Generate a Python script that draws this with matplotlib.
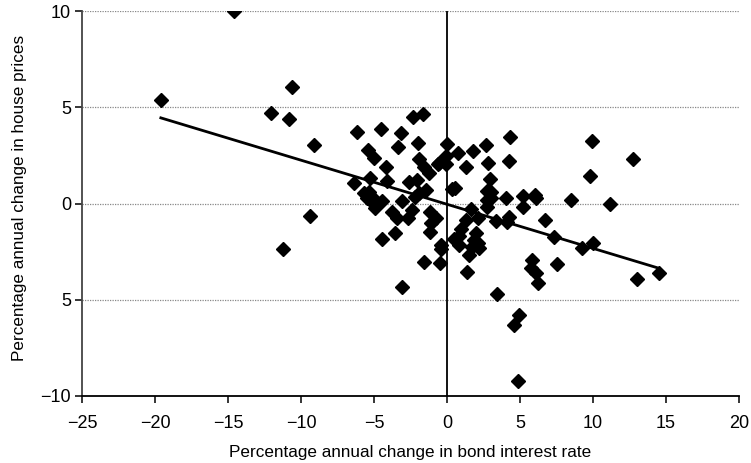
import matplotlib
matplotlib.use("Agg")
import matplotlib.pyplot as plt
import numpy as np

plt.rcParams['font.family'] = ['Liberation Sans', 'DejaVu Sans']

# Percentage annual change in bond interest rate (x) and house prices (y)
bond_change = [
    -19.6, -14.6, -12.06, -10.82, -10.6, -9.09, -9.36, -11.21,
    -6.16, -4.49, -3.14, -3.35, -5.43, -5.02, -4.15, -6.34, -5.25, -4.10,
    -5.71, -5.36, -5.13, -5.47, -5.02, -5.25, -4.90, -4.44, -3.07, -3.76,
    -3.42, -3.53, -4.44, -3.07,
    -2.32, -1.63, -2.0, -1.93, -1.59, -1.25, -0.56, -0.1, -0.1, -2.62,
    -2.04, -1.93, -1.47, -2.16, -2.39, -2.69, -1.18, -0.72, -1.13, -1.18,
    -0.38, -0.42, -1.59, -0.49, -0.03, -0.63,
    0.74, 1.77, 2.69, 1.32, 2.83, 2.94, 0.36, 0.58, 2.71, 2.98, 2.76, 2.98,
    2.71, 1.66, 2.11, 1.27, 0.93, 0.81, 0.51, 0.81, 2.02, 1.84, 2.11, 1.73,
    2.18, 1.50, 1.34,
    4.31, 4.27, 4.01, 5.22, 6.0, 6.07, 5.22, 3.39, 4.24, 4.13, 6.69, 7.33,
    5.84, 5.73, 6.07, 6.23, 7.56, 3.41, 4.93, 4.58, 4.83,
    8.52, 11.15, 9.91, 9.80, 12.77, 9.22, 10.0, 14.53, 13.0,
]
house_change = [
    5.4, 10.0, 4.71, 4.40, 6.03, 3.04, -0.63, -2.38,
    3.71, 3.87, 3.67, 2.93, 2.76, 2.34, 1.88, 1.05, 1.31, 1.18,
    0.53, 0.61, 0.35, 0.27, 0.01, 0.18, -0.25, 0.15, 0.15, -0.43,
    -0.77, -1.51, -1.86, -4.35,
    4.51, 4.64, 3.16, 2.29, 1.91, 1.57, 2.09, 2.48, 2.05, 1.13,
    1.22, 0.53, 0.70, 0.35, -0.34, -0.77, -0.43, -0.77, -1.03, -1.46,
    -2.15, -2.38, -3.02, -3.10, 3.09, 2.05,
    2.64, 2.74, 3.04, 1.91, 2.12, 1.27, 0.74, 0.82, 0.67, 0.61, 0.18, 0.27,
    -0.17, -0.30, -0.77, -0.86, -1.34, -1.69, -1.86, -2.15, -1.55, -1.89, -2.07, -2.24,
    -2.33, -2.67, -3.54,
    3.47, 2.21, 0.27, 0.39, 0.44, 0.27, -0.17, -0.89, -0.72, -0.94, -0.86, -1.76,
    -2.93, -3.36, -3.62, -4.14, -3.12, -4.70, -5.79, -6.31, -9.23,
    0.18, -0.03, 3.26, 1.43, 2.31, -2.29, -2.03, -3.59, -3.92,
]

# Fitted regression line (slope, intercept)
fit_slope = -0.229
fit_intercept = -0.04

x_ticks = [-25, -20, -15, -10, -5, 0, 5, 10, 15, 20]
x_ticklabels = ['\u221225', '\u221220', '\u221215', '\u221210', '\u22125', '0', '5', '10', '15', '20']
y_ticks = [-10, -5, 0, 5, 10]
y_ticklabels = ['\u221210', '5', '0', '5', '10']

fig = plt.figure(figsize=(7.51, 4.63), dpi=100)
ax = fig.add_axes([82/751, 1 - 396/463, (739 - 82)/751, (396 - 11)/463])

ax.set_xlim(-25, 20)
ax.set_ylim(-10, 10)

for yv in [10, 5, 0, -5]:
    ax.axhline(yv, color='#888888', linestyle=(0, (1, 1)), linewidth=0.9, zorder=1)
ax.axvline(0, color='black', linewidth=1.3, zorder=2)

xs = np.array(bond_change)
xl = np.array([xs.min(), xs.max()])
ax.plot(xl, fit_slope * xl + fit_intercept, color='black', linewidth=2.0, zorder=3)

ax.plot(bond_change, house_change, linestyle='none', marker='D', markersize=7.5,
        color='black', zorder=4)

for s in ['top', 'right']:
    ax.spines[s].set_visible(False)
ax.spines['left'].set_color('#444444')
ax.spines['left'].set_linewidth(1.3)
ax.spines['bottom'].set_linewidth(1.3)

ax.set_xticks(x_ticks)
ax.set_xticklabels(x_ticklabels)
ax.set_yticks(y_ticks)
ax.set_yticklabels(y_ticklabels)
ax.tick_params(axis='x', direction='out', length=5, width=1.1, pad=9, labelsize=13)
ax.tick_params(axis='y', direction='out', length=5, width=1.1, pad=3, labelsize=13)

fig.text(410.5/751, 1 - 452/463, 'Percentage annual change in bond interest rate',
         ha='center', va='center', fontsize=12.3)
fig.text(20/751, 1 - 198/463, 'Percentage annual change in house prices',
         ha='center', va='center', rotation=90, fontsize=12.3)

fig.savefig('out.png', dpi=100)
